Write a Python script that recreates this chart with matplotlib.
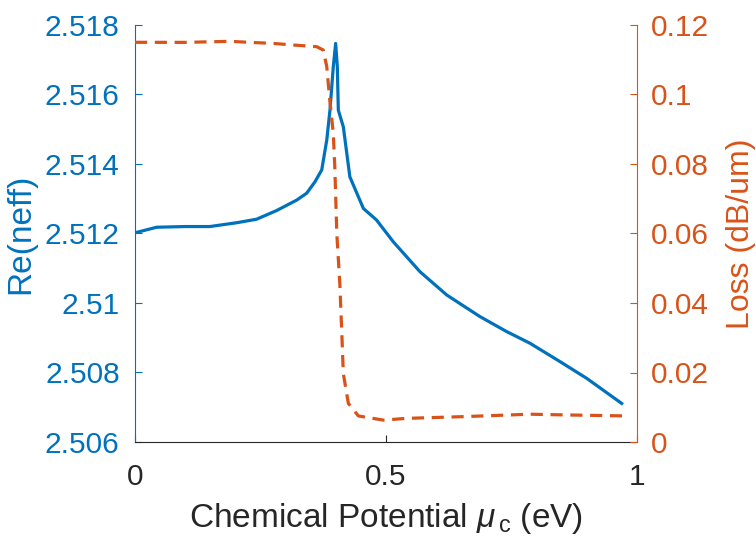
import matplotlib
matplotlib.use("Agg")
import matplotlib.pyplot as plt

plt.rcParams['font.family'] = ['Liberation Sans', 'DejaVu Sans']
plt.rcParams['mathtext.fontset'] = 'custom'
plt.rcParams['mathtext.it'] = 'Liberation Sans:italic'
plt.rcParams['mathtext.rm'] = 'Liberation Sans'

# Data
mu_neff = [0, 0.043, 0.10, 0.149, 0.2026, 0.242, 0.282, 0.322, 0.342, 0.3586, 0.372,
           0.382, 0.3884, 0.395, 0.3997, 0.403, 0.405, 0.415, 0.428, 0.455, 0.481,
           0.5146, 0.5677, 0.621, 0.687, 0.740, 0.787, 0.847, 0.900, 0.9695]
re_neff = [2.51202, 2.51218, 2.51220, 2.51220, 2.51231, 2.51241, 2.51266, 2.51296, 2.51316,
           2.51349, 2.51383, 2.51469, 2.51555, 2.5168, 2.51747, 2.5168, 2.51555, 2.51507,
           2.51363, 2.51272, 2.51239, 2.51176, 2.51090, 2.51023, 2.50961, 2.50918, 2.50884,
           2.50831, 2.50783, 2.50711]

mu_loss = [0, 0.10, 0.189, 0.229, 0.2756, 0.315, 0.362, 0.375, 0.382, 0.388, 0.395, 0.398,
           0.402, 0.408, 0.412, 0.415, 0.425, 0.445, 0.4946, 0.541, 0.654, 0.787, 0.853, 0.9795]
loss = [0.11502, 0.1150, 0.1153, 0.1150, 0.1147, 0.11424, 0.11376, 0.1128, 0.108, 0.0984,
        0.0888, 0.0792, 0.060, 0.0456, 0.0312, 0.0197, 0.0111, 0.0075, 0.0063, 0.0068,
        0.0073, 0.0080, 0.0078, 0.0075]

left_ticks = [2.506, 2.508, 2.51, 2.512, 2.514, 2.516, 2.518]
left_labels = ['2.506', '2.508', '2.51', '2.512', '2.514', '2.516', '2.518']
right_ticks = [0, 0.02, 0.04, 0.06, 0.08, 0.1, 0.12]
right_labels = ['0', '0.02', '0.04', '0.06', '0.08', '0.1', '0.12']
x_ticks = [0, 0.5, 1]
x_labels = ['0', '0.5', '1']

blue = '#0072BD'
orange = '#D95319'
dark = '#262626'
tfs = 21.5
lfs = 24

fig = plt.figure(figsize=(7.56, 5.42), dpi=100)
ax = fig.add_axes([135/756, 1-442/542, (637-135)/756, (442-25)/542])
ax2 = ax.twinx()

ax.plot(mu_neff, re_neff, color=blue, lw=2.3, solid_joinstyle='round')
ax2.plot(mu_loss, loss, color=orange, lw=2.3, linestyle=(0, (3.8, 2.4)))

ax.set_xlim(0, 1)
ax.set_ylim(2.506, 2.518)
ax2.set_ylim(0, 0.12)

ax.set_xticks(x_ticks)
ax.set_xticklabels(x_labels)
ax.set_yticks(left_ticks)
ax.set_yticklabels(left_labels)
ax2.set_yticks(right_ticks)
ax2.set_yticklabels(right_labels)

for a in (ax, ax2):
    a.spines['top'].set_visible(False)
    a.patch.set_visible(False)
ax.spines['left'].set_color(blue)
ax.spines['right'].set_visible(False)
ax2.spines['left'].set_visible(False)
ax2.spines['right'].set_color(orange)
ax2.spines['bottom'].set_visible(False)
ax.spines['bottom'].set_color(dark)
for s in ('left', 'bottom'):
    ax.spines[s].set_linewidth(0.8)
ax2.spines['right'].set_linewidth(0.8)

ax.tick_params(axis='y', direction='in', length=5, colors=blue, labelsize=tfs, pad=11)
ax.tick_params(axis='x', direction='in', length=5, colors=dark, labelsize=tfs, pad=15)
ax2.tick_params(axis='y', direction='in', length=5, colors=orange, labelsize=tfs, pad=10)

ax.set_xlabel(r'Chemical Potential $\mu_{\,\mathrm{c}}$ (eV)', fontsize=lfs, color=dark, labelpad=7)
ax.set_ylabel('Re(neff)', fontsize=lfs, color=blue, labelpad=6)
ax2.set_ylabel('Loss (dB/um)', fontsize=23, color=orange, labelpad=12)

fig.savefig('out.png', dpi=100, facecolor='white')
